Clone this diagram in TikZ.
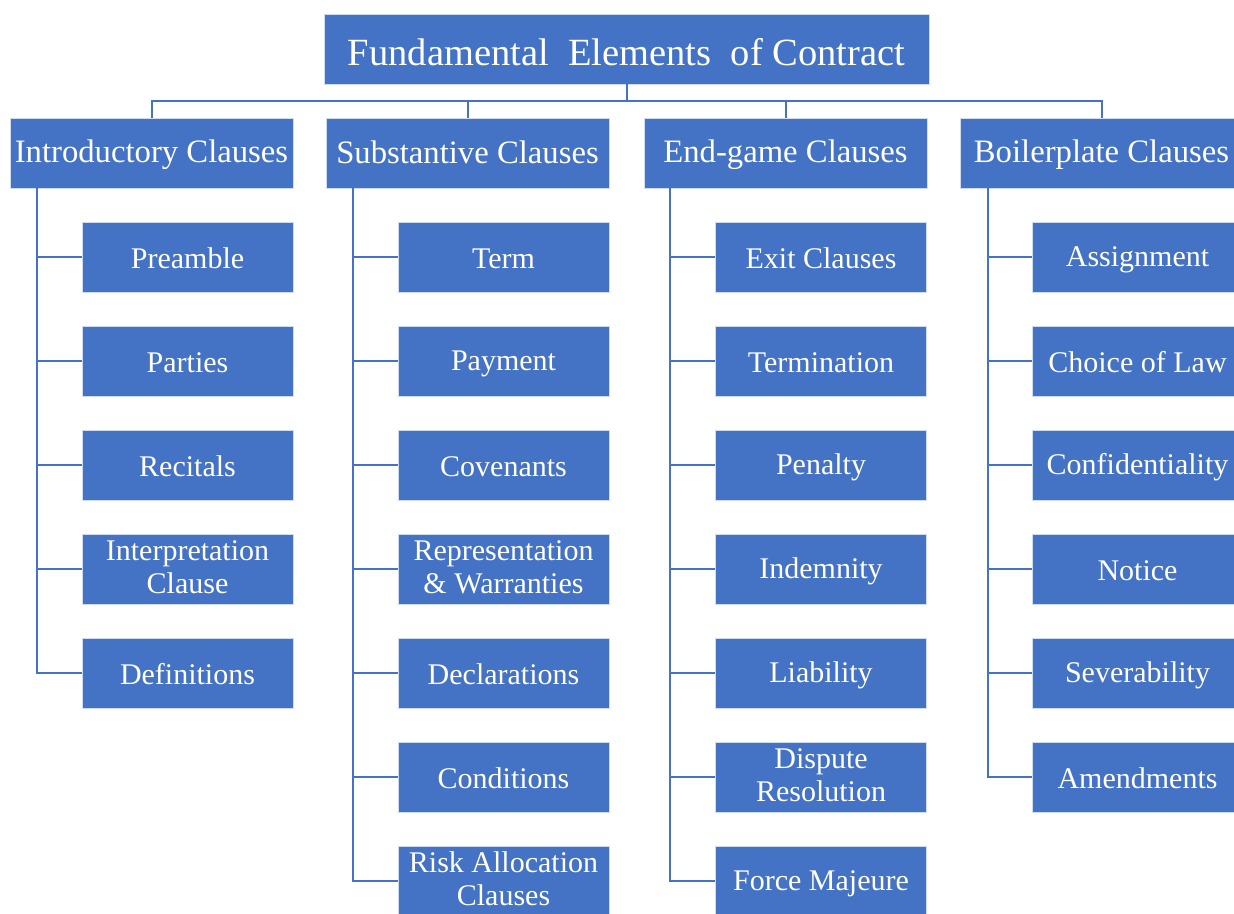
\documentclass[tikz,border=0pt]{standalone}
\usepackage{fontspec}
\setmainfont{Liberation Serif}
\definecolor{boxblue}{HTML}{4472C4}
\definecolor{lineblue}{HTML}{4472C4}
\newcommand{\rootstrut}{\rule[-3pt]{0pt}{38.4pt}}
\newcommand{\headstrut}{\rule[-4pt]{0pt}{29.4pt}}
\newcommand{\itemstrut}{\rule[-4pt]{0pt}{30pt}}
\begin{document}
\begin{tikzpicture}[x=1pt,y=-1pt,
  box/.style={fill=boxblue,draw=white!75!boxblue,line width=0.8pt,text=white,align=center,inner sep=0pt,minimum height=70pt},
  rootbox/.style={box,minimum width=605pt,font=\fontsize{38.5}{40}\selectfont,
    execute at begin node={\rootstrut},execute at end node={\rootstrut}},
  headbox/.style={box,minimum width=283pt,font=\fontsize{32.7}{34}\selectfont,
    execute at begin node={\headstrut},execute at end node={\headstrut}},
  itembox/.style={box,minimum width=211pt,font=\fontsize{30}{33}\selectfont,
    execute at begin node={\itemstrut},execute at end node={\itemstrut}},
  conn/.style={draw=lineblue,line width=2pt}]
\useasboundingbox (0,0) rectangle (1234,913);
\clip (0,0) rectangle (1234,913);
\node[rootbox] (root) at (626.5,49) {Fundamental\hspace{0.5em}Elements\hspace{0.5em}of Contract};
\node[headbox] (intro) at (151.5,153) {Introductory Clauses};
\node[headbox] (subst) at (467.5,153) {Substantive Clauses};
\node[headbox] (endg) at (785.5,153) {End-game Clauses};
\node[headbox] (boil) at (1101.5,153) {Boilerplate Clauses};
\foreach \h in {intro,subst,endg,boil}{
  \draw[conn] (\h.north) -- ++(0,-17) -| (root.south);
}
% Introductory
\node[itembox] (i1) at (187.5,257) {Preamble};
\node[itembox] (i2) at (187.5,361) {Parties};
\node[itembox] (i3) at (187.5,465) {Recitals};
\node[itembox] (i4) at (187.5,569) {Interpretation\\Clause};
\node[itembox] (i5) at (187.5,673) {Definitions};
% Substantive
\node[itembox] (s1) at (503.5,257) {Term};
\node[itembox] (s2) at (503.5,361) {Payment};
\node[itembox] (s3) at (503.5,465) {Covenants};
\node[itembox] (s4) at (503.5,569) {Representation\\\& Warranties};
\node[itembox] (s5) at (503.5,673) {Declarations};
\node[itembox] (s6) at (503.5,777) {Conditions};
\node[itembox] (s7) at (503.5,881) {Risk Allocation\\Clauses};
% End-game
\node[itembox] (e1) at (821,257) {Exit Clauses};
\node[itembox] (e2) at (821,361) {Termination};
\node[itembox] (e3) at (821,465) {Penalty};
\node[itembox] (e4) at (821,569) {Indemnity};
\node[itembox] (e5) at (821,673) {Liability};
\node[itembox] (e6) at (821,777) {Dispute\\Resolution};
\node[itembox] (e7) at (821,881) {Force Majeure};
% Boilerplate
\node[itembox] (b1) at (1137.5,257) {Assignment};
\node[itembox] (b2) at (1137.5,361) {Choice of Law};
\node[itembox] (b3) at (1137.5,465) {Confidentiality};
\node[itembox] (b4) at (1137.5,569) {Notice};
\node[itembox] (b5) at (1137.5,673) {Severability};
\node[itembox] (b6) at (1137.5,777) {Amendments};
% connectors
\foreach \c in {i1,i2,i3,i4,i5}{\draw[conn] ([xshift=27pt]intro.south west) |- (\c.west);}
\foreach \c in {s1,s2,s3,s4,s5,s6,s7}{\draw[conn] ([xshift=27pt]subst.south west) |- (\c.west);}
\foreach \c in {e1,e2,e3,e4,e5,e6,e7}{\draw[conn] ([xshift=26pt]endg.south west) |- (\c.west);}
\foreach \c in {b1,b2,b3,b4,b5,b6}{\draw[conn] ([xshift=28pt]boil.south west) |- (\c.west);}
\end{tikzpicture}
\end{document}
